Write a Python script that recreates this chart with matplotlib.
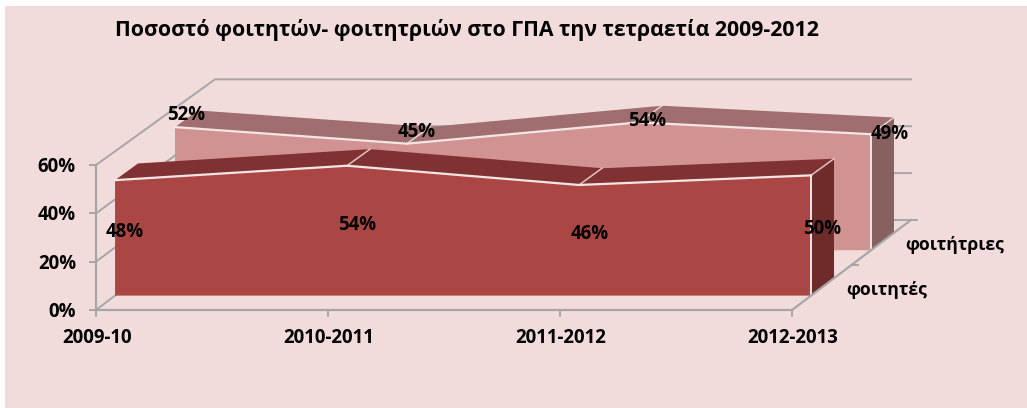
#!/usr/bin/env python3

import matplotlib
matplotlib.use("Agg")
import matplotlib.pyplot as plt
from matplotlib.patches import Polygon, Rectangle

title = "Ποσοστό φοιτητών- φοιτητριών στο ΓΠΑ την τετραετία 2009-2012"
years = ["2009-10", "2010-2011", "2011-2012", "2012-2013"]
series_names = ["φοιτητές", "φοιτήτριες"]
students_m = [48, 54, 46, 50]
students_f = [52, 45, 54, 49]
y_ticks = [0, 20, 40, 60]

# oblique projection: category, percent and depth (0-1) to pixels
X0, Y0 = 96, 310
STEP_X = 232
PCT_Y = 145 / 60
DEPTH_X, DEPTH_Y = 119, -90
SHRINK = 0.03


def project(i, v, d=0.0):
    return (X0 + STEP_X * i + DEPTH_X * d,
            Y0 + DEPTH_Y * d - v * PCT_Y * (1 - SHRINK * d))


def draw_series(ax, values, d0, d1, face, top, side):
    n = len(values)
    edge = "#f4e6e5"
    front = [project(i, v, d0) for i, v in enumerate(values)]
    front = [project(0, 0, d0)] + front + [project(n - 1, 0, d0)]
    ax.add_patch(Polygon(front, fc=face, ec="none", zorder=3))
    ax.add_patch(Polygon([project(n - 1, 0, d0), project(n - 1, values[-1], d0),
                          project(n - 1, values[-1], d1), project(n - 1, 0, d1)],
                         fc=side, ec="none", zorder=3))
    for i in range(n - 1):
        ax.add_patch(Polygon([project(i, values[i], d0), project(i + 1, values[i + 1], d0),
                              project(i + 1, values[i + 1], d1), project(i, values[i], d1)],
                             fc=top, ec="none", zorder=3))
    # pale edges along the ridges
    xs, ys = zip(*[project(i, v, d0) for i, v in enumerate(values)])
    ax.plot(xs, ys, color=edge, lw=1.6, zorder=4)
    for i, v in enumerate(values):
        if i == 0:
            continue
        xs, ys = zip(project(i, v, d0), project(i, v, d1))
        ax.plot(xs, ys, color=edge, lw=1.1, alpha=0.8, zorder=4)
    xs, ys = zip(project(n - 1, 0, d0), project(n - 1, values[-1], d0))
    ax.plot(xs, ys, color=edge, lw=1.4, zorder=4)


if __name__ == "__main__":
    plt.rcParams["font.family"] = ["Open Sans", "DejaVu Sans"]
    plt.rcParams["font.weight"] = "bold"

    fig = plt.figure(figsize=(10.27, 4.08), dpi=100, facecolor="white")
    ax = fig.add_axes([0, 0, 1, 1])
    ax.set_xlim(0, 1027)
    ax.set_ylim(408, 0)
    ax.axis("off")
    ax.add_patch(Rectangle((5, 6), 1022, 402, fc="#f2dcdb", ec="none", zorder=0))

    grid = "#a6a6a6"
    last = len(years) - 1
    label_size = 13.4

    # walls and gridlines
    for t in y_ticks:
        xs, ys = zip(project(0, t), project(0, t, 1), project(last, t, 1))
        ax.plot(xs, ys, color=grid, lw=1.4, zorder=1)
        xs, ys = zip((project(0, t)[0] - 6, project(0, t)[1]), project(0, t))
        ax.plot(xs, ys, color=grid, lw=1.4, zorder=1)
        ax.text(76, project(0, t)[1] + 2, f"{t}%", ha="right", va="center", fontsize=label_size, color="black")

    xs, ys = zip(project(0, 0), project(0, 60))
    ax.plot(xs, ys, color=grid, lw=1.6, zorder=1)
    xs, ys = zip(project(0, 0), project(last, 0), project(last, 0, 1))
    ax.plot(xs, ys, color=grid, lw=1.6, zorder=5)

    for i, year in enumerate(years):
        px, py = project(i, 0)
        ax.plot([px, px], [py, py + 6], color=grid, lw=1.4, zorder=1)
        ax.text(px + 1, 338, year, ha="center", va="center", fontsize=label_size, color="black")

    # depth axis ticks
    for d in (0.5, 1.0):
        px, py = project(last, 0, d)
        ax.plot([px, px + 6], [py, py], color=grid, lw=1.4, zorder=5)

    draw_series(ax, students_f, 0.664, 0.857, "#d09392", "#a06e6e", "#876060")
    draw_series(ax, students_m, 0.16, 0.353, "#aa4643", "#7f3231", "#6f2a2a")

    # data labels, offset from the middle of the front edge or the top
    off_m = [(10, -6), (10, -6), (11, -6), (11, -6)]
    off_f = [(11, -12), (10, -12), (8, -1), (19, 0)]
    for i, v in enumerate(students_m):
        px, py = project(i, v / 2, 0.16)
        ax.text(px + off_m[i][0], py + off_m[i][1], f"{v}%", ha="center", va="center",
                fontsize=label_size, color="black", zorder=6)
    for i, v in enumerate(students_f):
        px, py = project(i, v, 0.664)
        ax.text(px + off_f[i][0], py + off_f[i][1], f"{v}%", ha="center", va="center",
                fontsize=label_size, color="black", zorder=6)

    ax.text(887, 290, series_names[0], ha="center", va="center", fontsize=12.7, color="black")
    ax.text(955, 245, series_names[1], ha="center", va="center", fontsize=12.7, color="black")
    ax.text(467, 30, title, ha="center", va="center", fontsize=15.3, color="black")

    fig.savefig("out.png", dpi=100)
